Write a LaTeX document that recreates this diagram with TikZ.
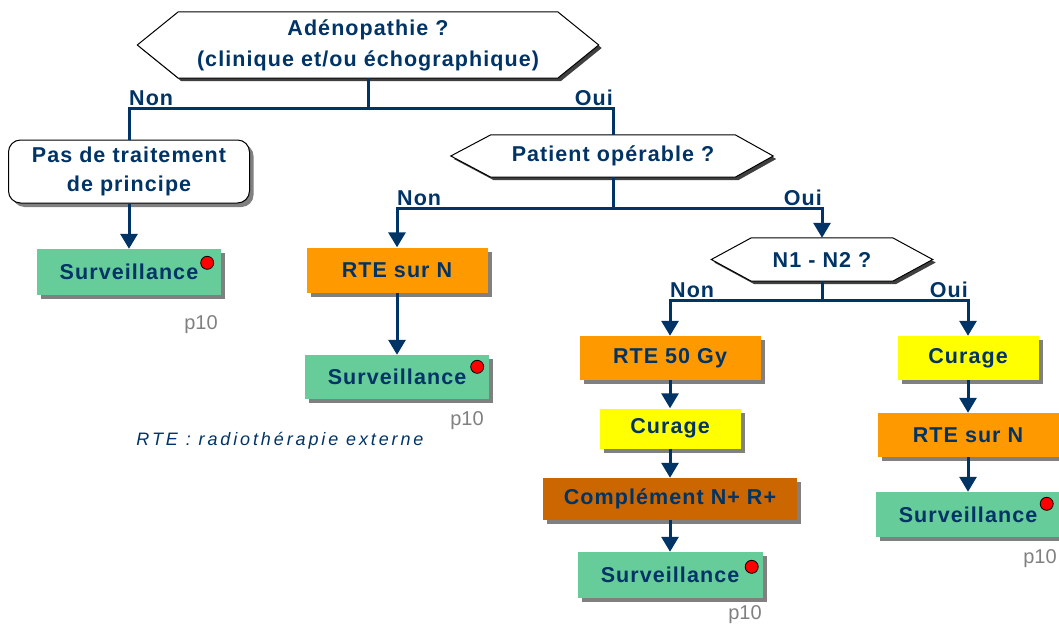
\documentclass[tikz,border=0pt]{standalone}
\usepackage{fontspec}
\setmainfont{Liberation Sans}
\newfontfamily\boxfont[LetterSpace=5]{Liberation Sans}
\newfontfamily\notefont[LetterSpace=16]{Liberation Sans}
\usetikzlibrary{arrows.meta,calc,shadows,backgrounds}

\definecolor{navy}{RGB}{0,51,102}
\definecolor{survgreen}{RGB}{102,204,153}
\definecolor{rteorange}{RGB}{255,153,0}
\definecolor{curyellow}{RGB}{255,255,0}
\definecolor{compbrown}{RGB}{204,102,0}
\definecolor{pagegray}{RGB}{128,128,128}

\tikzset{
  txt/.style={font=\boxfont\bfseries\fontsize{21.5}{29}\selectfont, text=navy, align=center, inner sep=0pt},
  box/.style={txt, drop shadow={fill=gray, opacity=1, shadow xshift=4pt, shadow yshift=-4pt}},
  surv/.style={box, fill=survgreen, minimum width=184pt, minimum height=46pt},
  rte/.style={box, fill=rteorange, minimum width=181pt, minimum height=45pt},
  cur/.style={box, fill=curyellow, minimum width=141pt, minimum height=42pt},
  comp/.style={box, fill=compbrown, minimum width=254pt, minimum height=42pt},
  hexa/.style={draw=black, line width=1pt, fill=white, drop shadow={fill=black!75, opacity=1, shadow xshift=3pt, shadow yshift=-3pt}},
  link/.style={draw=navy, line width=3pt},
  arr/.style={link, -{Triangle[width=17pt,length=15pt]}},
  lab/.style={txt, inner sep=0pt},
  dot/.style={circle, fill=red, draw=black, line width=0.8pt, minimum size=13pt, inner sep=0pt},
  pg/.style={font=\fontsize{20}{24}\selectfont, text=pagegray, inner sep=0pt}
}

\begin{document}
\begin{tikzpicture}[x=1pt,y=-1pt]
    \useasboundingbox (0,0) rectangle (1059,626);

    % questions
    \node[txt, minimum width=379pt, minimum height=66pt] (q1) at (368,45) {Adénopathie ?\\[2pt](clinique et/ou échographique)};
    \node[txt, minimum width=244pt, minimum height=42pt] (q2) at (613,156) {Patient opérable ?};
    \node[txt, minimum width=141pt, minimum height=43pt] (q3) at (822,259.5) {N1 - N2 ?};
    \begin{scope}[on background layer]
    \draw[hexa] (q1.north west) -- (q1.north east) -- ($(q1.east)+(41,0)$) -- (q1.south east) -- (q1.south west) -- ($(q1.west)+(-41,0)$) -- cycle;
    \draw[hexa] (q2.north west) -- (q2.north east) -- ($(q2.east)+(38,0)$) -- (q2.south east) -- (q2.south west) -- ($(q2.west)+(-40,0)$) -- cycle;
    \draw[hexa] (q3.north west) -- (q3.north east) -- ($(q3.east)+(40,0)$) -- (q3.south east) -- (q3.south west) -- ($(q3.west)+(-40,0)$) -- cycle;
    \end{scope}

    % left column
    \node[box, draw=black, line width=1pt, fill=white, rounded corners=12pt, minimum width=241pt, minimum height=63pt] (pas) at (129,171.5) {Pas de traitement\\de principe};
    \node[surv] (s1) at (129,272) {Surveillance};

    % second column
    \node[rte] (rte1) at (397,270) {RTE sur N};
    \node[surv, minimum height=44pt] (s2) at (397,377) {Surveillance};

    % third column
    \node[rte, minimum height=44pt] (rte50) at (670,358) {RTE 50 Gy};
    \node[cur, minimum height=40pt] (cur1) at (670,428.5) {Curage};
    \node[comp] (comp) at (670,499) {Complément N+ R+};
    \node[surv, minimum width=185pt] (s3) at (670,575) {Surveillance};

    % fourth column
    \node[cur, minimum height=44pt] (cur2) at (968,358) {Curage};
    \node[rte, minimum height=44pt] (rte2) at (968,435) {RTE sur N};
    \node[surv, minimum width=185pt, minimum height=45pt] (s4) at (968,514.5) {Surveillance};

    % red dots
    \node[dot] (d1) at ($(s1.north east)+(-14,14)$) {};
    \node[dot] (d2) at ($(s2.north east)+(-12,12)$) {};
    \node[dot] (d3) at ($(s3.north east)+(-11,15)$) {};
    \node[dot] (d4) at ($(s4.north east)+(-14,12)$) {};

    % page refs
    \node[pg] (r1) at (201,325) {p10};
    \node[pg] (r2) at (467,421) {p10};
    \node[pg] (r3) at (745,615) {p10};
    \node[pg] (r4) at (1040,559) {p10};

    \node[font=\notefont\itshape\fontsize{18}{22}\selectfont, text=navy, inner sep=0pt] (note) at (280,441) {RTE : radiothérapie externe};

    % branches
    \coordinate (j1) at (368,108);
    \coordinate (j2) at (613,208);
    \coordinate (j3) at (822,300);
    \draw[link] (q1.south) -- (j1);
    \draw[link] (pas.north) |- (j1) -| (q2.north);
    \node[lab, anchor=south west, yshift=2.5pt] (n1) at (pas.north |- j1) {Non};
    \node[lab, anchor=south east, yshift=2.5pt] (o1) at (q2.north |- j1) {Oui};

    \draw[link] (q2.south) -- (j2);
    \draw[arr] (j2) -| (rte1.north);
    \draw[arr] (j2) -| (q3.north);
    \node[lab, anchor=south west, yshift=2.5pt] (n2) at (rte1.north |- j2) {Non};
    \node[lab, anchor=south east, yshift=2.5pt] (o2) at (q3.north |- j2) {Oui};

    \draw[link] (q3.south) -- (j3);
    \draw[arr] (j3) -| (rte50.north);
    \draw[arr] (j3) -| (cur2.north);
    \node[lab, anchor=south west, yshift=2.5pt] (n3) at (rte50.north |- j3) {Non};
    \node[lab, anchor=south east, yshift=2.5pt] (o3) at (cur2.north |- j3) {Oui};

    % straight arrows
    \draw[arr] (pas) -- (s1);
    \draw[arr] (rte1) -- (s2);
    \draw[arr] (rte50) -- (cur1);
    \draw[arr] (cur1) -- (comp);
    \draw[arr] (comp) -- (s3);
    \draw[arr] (cur2) -- (rte2);
    \draw[arr] (rte2) -- (s4);
\end{tikzpicture}
\end{document}
